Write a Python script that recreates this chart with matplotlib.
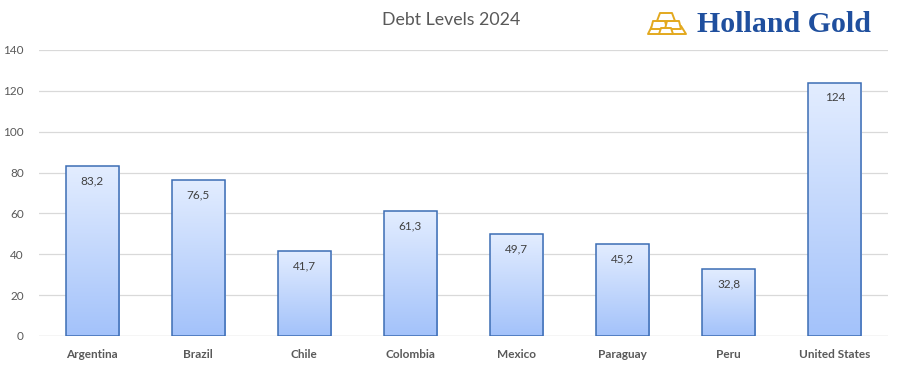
import matplotlib
matplotlib.use("Agg")
import matplotlib.pyplot as plt
import numpy as np
from matplotlib.patches import Polygon
from matplotlib.colors import LinearSegmentedColormap

categories = ["Argentina", "Brazil", "Chile", "Colombia", "Mexico", "Paraguay", "Peru", "United States"]
values = [83.2, 76.5, 41.7, 61.3, 49.7, 45.2, 32.8, 124]
labels = ["83,2", "76,5", "41,7", "61,3", "49,7", "45,2", "32,8", "124"]
yticks = [0, 20, 40, 60, 80, 100, 120, 140]

plt.rcParams['font.family'] = ['Lato', 'DejaVu Sans']

fig = plt.figure(figsize=(9.04, 3.70), dpi=100)
ax = fig.add_axes([39/904, 1-336/370, (888-39)/904, (336-50)/370])
ax.set_xlim(-0.5, len(categories)-0.5)
ax.set_ylim(0, 140)

x = np.arange(len(categories))
bars = ax.bar(x, values, width=0.5, facecolor='none', edgecolor='#3c6db4', linewidth=1.1, zorder=3)

grad = np.linspace(0, 1, 256).reshape(-1, 1)
cmap = LinearSegmentedColormap.from_list('g', ['#a3c2fa', '#e3edff'])
for b in bars:
    x0, y0 = b.get_x(), b.get_y()
    w, h = b.get_width(), b.get_height()
    im = ax.imshow(grad, extent=[x0, x0+w, y0, y0+h], origin='lower', cmap=cmap,
                   aspect='auto', zorder=2)
    im.set_clip_path(b)

for xi, v, lab in zip(x, values, labels):
    ax.text(xi, v - 7.3, lab, ha='center', va='center', fontsize=8.5, color='#404040', zorder=4)

ax.set_yticks(yticks)
ax.set_yticklabels([str(t) for t in yticks], fontsize=8.5, color='#595959')
ax.set_xticks(x)
ax.set_xticklabels(categories, fontsize=8.5, color='#595959', fontweight='bold')
ax.tick_params(length=0)
ax.tick_params(axis='x', pad=9)
ax.tick_params(axis='y', pad=11)
ax.grid(axis='y', color='#d9d9d9', linewidth=0.9, zorder=0)
ax.set_axisbelow(True)
for s in ax.spines.values():
    s.set_visible(False)
ax.axhline(0, color='#d9d9d9', linewidth=0.9, zorder=1)
ax.set_xlim(-0.5, len(categories)-0.5)

fig.text(451/904, 1-20/370, "Debt Levels 2024", ha='center', va='center', fontsize=12.8, color='#595959')

# logo
fig.text(697/904, 1-24/370, "Holland Gold", ha='left', va='center', fontsize=21.5,
         family='Liberation Serif', fontweight='bold', color='#1f4f9e')
gold = '#e3a91f'
def px(pts):
    return [(a/904, 1-b/370) for a, b in pts]
shapes = [
    [(652, 26), (681, 26), (686, 34), (648, 34)],
    [(653, 21), (665, 21), (667, 29), (651, 29)],
    [(667, 21), (679, 21), (681, 29), (665, 29)],
    [(660, 13), (672, 13), (675, 21), (657, 21)],
    [(661, 28), (671, 28), (673, 34), (659, 34)],
]
for s in shapes:
    fig.patches.append(Polygon(px(s), closed=True, facecolor='white', edgecolor=gold, linewidth=1.4,
                               joinstyle='round', transform=fig.transFigure, figure=fig))

fig.savefig("out.png", dpi=100)
